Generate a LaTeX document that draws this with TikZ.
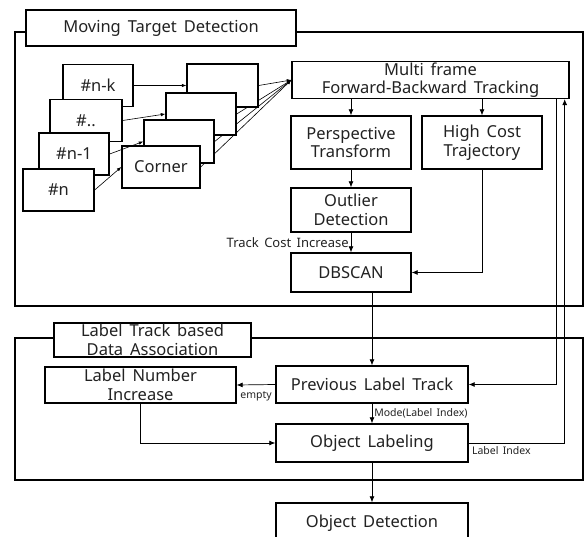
\documentclass[tikz,border=0pt]{standalone}
\usepackage{fontspec}
\setmainfont{Noto Sans}[WordSpace=1.6]
\usetikzlibrary{arrows.meta}
\pgfdeclarelayer{bg}
\pgfsetlayers{bg,main}
\definecolor{ink}{HTML}{222222}
\begin{document}
\begin{tikzpicture}[x=1pt,y=-1pt,
  panel/.style={draw, line width=1.4pt, inner sep=0pt},
  box/.style={draw, line width=1.4pt, fill=white, inner sep=0pt, align=center, text=ink,
    font=\fontsize{16.5}{18.5}\selectfont},
  framebox/.style={box, minimum width=70pt, minimum height=42pt},
  conn/.style={line width=0.7pt},
  arr/.style={conn, -{Latex[length=6pt,width=5pt]}},
  sarr/.style={line width=0.6pt, -{Latex[length=4.5pt,width=3.5pt]}},
  mid/.style={font=\fontsize{13}{14}\selectfont, text=ink, inner sep=2pt},
  lab/.style={font=\fontsize{10.5}{12}\selectfont, text=ink, inner sep=2pt}]
\useasboundingbox (0,0) rectangle (584,537);
\clip (0,0) rectangle (584,537);

% panels
\node[panel, minimum width=568pt, minimum height=274pt] (mtd) at (299,169) {};
\node[box, minimum width=270pt, minimum height=36pt] (t1) at (161,28) {Moving Target Detection};
\node[panel, minimum width=568pt, minimum height=142pt] (ltd) at (299,409) {};
\node[box, minimum width=197pt, minimum height=34pt] (t2) at (152.5,340) {Label Track based\\Data Association};

% frames
\node[framebox] (nk) at (98,85.5) {\#n-k};
\node[framebox, minimum width=72pt] (ndots) at (86,120.5) {\#..};
\node[framebox] (n1) at (74,154) {\#n-1};
\node[framebox, minimum width=71pt] (n) at (58.5,190) {\#n};

% corner stacks
\node[box, minimum width=71pt, minimum height=43pt] (c1) at (222.5,85.5) {};
\node[box, minimum width=70pt, minimum height=42pt] (c2) at (201,114) {};
\node[box, minimum width=70pt, minimum height=43pt] (c3) at (179,141.5) {};
\node[box, minimum width=78pt, minimum height=42pt] (corner) at (161,167) {Corner};

% main boxes
\node[box, minimum width=277pt, minimum height=37pt] (multi) at (430.5,80) {Multi frame\\Forward-Backward Tracking};
\node[box, minimum width=120pt, minimum height=53pt] (persp) at (351,142.5) {Perspective\\Transform};
\node[box, minimum width=120pt, minimum height=53pt] (high) at (482,142.5) {High Cost\\Trajectory};
\node[box, minimum width=120pt, minimum height=44pt] (outlier) at (351,210) {Outlier\\Detection};
\node[box, minimum width=120pt, minimum height=39pt] (dbscan) at (351,272.5) {DBSCAN};

\node[box, minimum width=191pt, minimum height=36pt] (lni) at (140.5,385) {Label Number\\Increase};
\node[box, minimum width=192pt, minimum height=37pt] (plt) at (372,384.5) {Previous Label Track};
\node[box, minimum width=192pt, minimum height=38pt] (ol) at (372,443) {Object Labeling};
\node[box, minimum width=192pt, minimum height=40pt] (od) at (372,523) {Object Detection};

% lines from the corner stack to tracking (behind boxes)
\begin{pgfonlayer}{bg}
\draw[sarr] (c1.east) -- (multi.west);
\draw[sarr] (c2.east) -- (multi.west);
\draw[sarr] (c3.east) -- (multi.west);
\draw[sarr] (corner.east) -- (multi.west);
\end{pgfonlayer}

% frame -> corner arrows
\draw[sarr] (nk.east) -- (c1.west);
\draw[sarr] (ndots.east) -- (c2.west);
\draw[sarr] (n1.east) -- (c3.west);
\draw[sarr] (n.east) -- (corner.west);

% connectors
\draw[arr] (persp.north |- multi.south) -- (persp.north);
\draw[arr] (high.north |- multi.south) -- (high.north);
\draw[arr] (persp.south) -- (outlier.north);
\draw[arr] (outlier.south) -- node[mid, left] {Track Cost Increase} (dbscan.north);
\draw[arr] (high.south) |- (dbscan.east);
\draw[arr] (plt.north |- dbscan.south) -- (plt.north);
\draw[arr] (plt.south) -- node[lab, right] {Mode(Label Index)} (ol.north);
\draw[arr] (ol.south) -- (od.north);
\draw[arr] (plt.west) -- node[lab, below=4pt] {empty} (lni.east);
\draw[arr] (lni.south) |- (ol.west);
\draw[arr] ([xshift=-13pt]multi.south east) |- (plt.east);
\draw[arr] (ol.east) node[lab, anchor=north west, xshift=1pt, yshift=-1pt] {Label Index} -| ([xshift=-5pt]multi.south east);
\end{tikzpicture}
\end{document}
